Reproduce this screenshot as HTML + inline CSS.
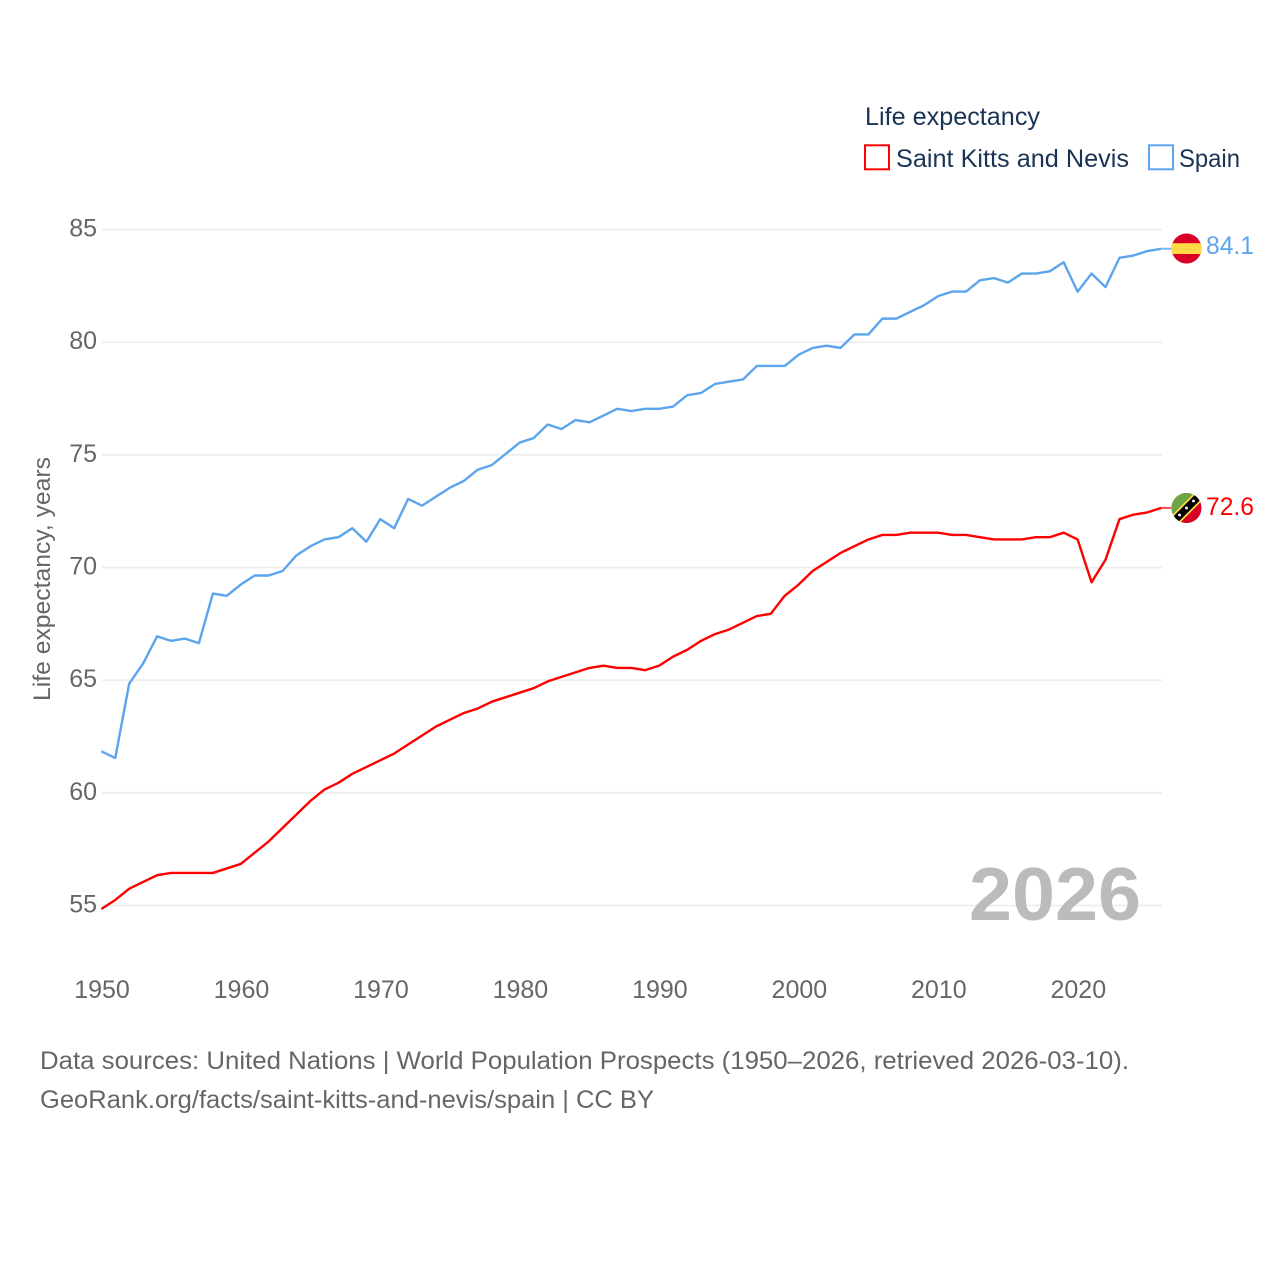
<!DOCTYPE html>
<html lang="en">
<head>
<meta charset="utf-8">
<title>Life expectancy: Saint Kitts and Nevis vs Spain</title>
<style>
html,body{margin:0;padding:0;background:#fff;width:1280px;height:1280px;overflow:hidden}
svg{display:block;font-family:"Liberation Sans",sans-serif}
</style>
</head>
<body>
<svg id="chart" xmlns="http://www.w3.org/2000/svg" width="1280" height="1280" viewBox="0 0 1280 1280">
  <defs>
    <clipPath id="flag-clip-es"><circle cx="1186.5" cy="248.5" r="15"/></clipPath>
    <clipPath id="flag-clip-kn"><circle cx="1186.5" cy="508" r="15"/></clipPath>
  </defs>
  <rect x="0" y="0" width="1280" height="1280" fill="#fff"/>
  <g id="grid"></g>
  <g id="yticks"></g>
  <g id="xticks"></g>
  <text transform="translate(50 701) rotate(-90)" font-size="24" fill="#666" textLength="244" lengthAdjust="spacingAndGlyphs">Life expectancy, years</text>

  <text x="969" y="920" font-size="75" font-weight="bold" fill="#bbb" textLength="172" lengthAdjust="spacingAndGlyphs">2026</text>

  <g id="series" transform="translate(-0.7 -1)"></g>

  <g>
    <text x="865" y="125" font-size="25" fill="#1a3354" textLength="175" lengthAdjust="spacingAndGlyphs">Life expectancy</text>
    <rect x="865" y="145.3" width="24" height="24" fill="none" stroke="#ff0000" stroke-width="2"/>
    <text x="896" y="167" font-size="25" fill="#1a3354" textLength="233" lengthAdjust="spacingAndGlyphs">Saint Kitts and Nevis</text>
    <rect x="1149" y="145.3" width="24" height="24" fill="none" stroke="#5ca5ec" stroke-width="2"/>
    <text x="1179" y="167" font-size="25" fill="#1a3354" textLength="61" lengthAdjust="spacingAndGlyphs">Spain</text>
  </g>

  <g clip-path="url(#flag-clip-es)">
    <rect x="1170" y="232" width="34" height="33" fill="#d80027"/>
    <rect x="1170" y="243.2" width="34" height="10.8" fill="#ffda44"/>
  </g>
  <g clip-path="url(#flag-clip-kn)">
    <rect x="1170" y="491" width="34" height="34" fill="#d80027"/>
    <polygon points="1170,491 1204,491 1170,525" fill="#6da544"/>
    <line x1="1170" y1="525" x2="1204" y2="491" stroke="#ffda44" stroke-width="11"/>
    <line x1="1170" y1="525" x2="1204" y2="491" stroke="#000" stroke-width="7.5"/>
    <circle cx="1179.5" cy="515" r="1.5" fill="#eee"/>
    <circle cx="1186.5" cy="508" r="1.5" fill="#eee"/>
    <circle cx="1193.5" cy="501" r="1.5" fill="#eee"/>
  </g>

  <text id="value-spain" x="1206" y="254" font-size="25" fill="#5ca5ec" textLength="48" lengthAdjust="spacingAndGlyphs"></text>
  <text id="value-kitts" x="1206" y="515" font-size="25" fill="#ff0000" textLength="48" lengthAdjust="spacingAndGlyphs"></text>

  <text x="40" y="1069" font-size="25" fill="#666" textLength="1089" lengthAdjust="spacingAndGlyphs">Data sources: United Nations | World Population Prospects (1950–2026, retrieved 2026-03-10).</text>
  <text x="40" y="1108" font-size="25" fill="#666" textLength="614" lengthAdjust="spacingAndGlyphs">GeoRank.org/facts/saint-kitts-and-nevis/spain | CC BY</text>
</svg>
<script>
const years = [1950,1951,1952,1953,1954,1955,1956,1957,1958,1959,1960,1961,1962,1963,1964,1965,1966,1967,1968,1969,1970,1971,1972,1973,1974,1975,1976,1977,1978,1979,1980,1981,1982,1983,1984,1985,1986,1987,1988,1989,1990,1991,1992,1993,1994,1995,1996,1997,1998,1999,2000,2001,2002,2003,2004,2005,2006,2007,2008,2009,2010,2011,2012,2013,2014,2015,2016,2017,2018,2019,2020,2021,2022,2023,2024,2025,2026];
const spainValues = [61.8,61.5,64.8,65.7,66.9,66.7,66.8,66.6,68.8,68.7,69.2,69.6,69.6,69.8,70.5,70.9,71.2,71.3,71.7,71.1,72.1,71.7,73.0,72.7,73.1,73.5,73.8,74.3,74.5,75.0,75.5,75.7,76.3,76.1,76.5,76.4,76.7,77.0,76.9,77.0,77.0,77.1,77.6,77.7,78.1,78.2,78.3,78.9,78.9,78.9,79.4,79.7,79.8,79.7,80.3,80.3,81.0,81.0,81.3,81.6,82.0,82.2,82.2,82.7,82.8,82.6,83.0,83.0,83.1,83.5,82.2,83.0,82.4,83.7,83.8,84.0,84.1];
const kittsValues = [54.8,55.2,55.7,56.0,56.3,56.4,56.4,56.4,56.4,56.6,56.8,57.3,57.8,58.4,59.0,59.6,60.1,60.4,60.8,61.1,61.4,61.7,62.1,62.5,62.9,63.2,63.5,63.7,64.0,64.2,64.4,64.6,64.9,65.1,65.3,65.5,65.6,65.5,65.5,65.4,65.6,66.0,66.3,66.7,67.0,67.2,67.5,67.8,67.9,68.7,69.2,69.8,70.2,70.6,70.9,71.2,71.4,71.4,71.5,71.5,71.5,71.4,71.4,71.3,71.2,71.2,71.2,71.3,71.3,71.5,71.2,69.3,70.3,72.1,72.3,72.4,72.6];
const yTickValues = [55,60,65,70,75,80,85];
const xTickValues = [1950,1960,1970,1980,1990,2000,2010,2020];

const NS = 'http://www.w3.org/2000/svg';
const xScale = function (year) { return 102 + (year - 1950) * (1162 - 102) / (2026 - 1950); };
const yScale = function (value) { return 905.5 - (value - 55) * (905.5 - 229.5) / (85 - 55); };

const grid = document.getElementById('grid');
const yticks = document.getElementById('yticks');
const xticks = document.getElementById('xticks');
const series = document.getElementById('series');

yTickValues.forEach(function (v) {
  const line = document.createElementNS(NS, 'line');
  
  
  line.setAttribute('x1', xScale(1950));
  line.setAttribute('x2', xScale(2026));
  line.setAttribute('y1', yScale(v));
  line.setAttribute('y2', yScale(v));
  line.setAttribute('stroke', '#eeeeee');
  line.setAttribute('stroke-width', '1.8');
  grid.appendChild(line);

  const label = document.createElementNS(NS, 'text');
  
  
  label.setAttribute('x', 97);
  label.setAttribute('y', yScale(v) + 7);
  label.setAttribute('text-anchor', 'end');
  label.setAttribute('font-size', '25');
  label.setAttribute('fill', '#666');
  label.textContent = String(v);
  yticks.appendChild(label);
});

xTickValues.forEach(function (y) {
  const label = document.createElementNS(NS, 'text');
  
  
  label.setAttribute('x', xScale(y));
  label.setAttribute('y', 998);
  label.setAttribute('text-anchor', 'middle');
  label.setAttribute('font-size', '25');
  label.setAttribute('fill', '#666');
  label.textContent = String(y);
  xticks.appendChild(label);
});

function linePoints(values) {
  return values.map(function (v, i) {
    return xScale(years[i]).toFixed(2) + ',' + yScale(v).toFixed(2);
  }).join(' ');
}

const spainLine = document.createElementNS(NS, 'polyline');


spainLine.setAttribute('points', linePoints(spainValues));
spainLine.setAttribute('fill', 'none');
spainLine.setAttribute('stroke', '#5ca5ec');
spainLine.setAttribute('stroke-width', '2.4');
spainLine.setAttribute('stroke-linejoin', 'round');
series.appendChild(spainLine);

const kittsLine = document.createElementNS(NS, 'polyline');


kittsLine.setAttribute('points', linePoints(kittsValues));
kittsLine.setAttribute('fill', 'none');
kittsLine.setAttribute('stroke', '#ff0000');
kittsLine.setAttribute('stroke-width', '2.4');
kittsLine.setAttribute('stroke-linejoin', 'round');
series.appendChild(kittsLine);

const last = years.length - 1;

const spainConnector = document.createElementNS(NS, 'line');


spainConnector.setAttribute('x1', xScale(years[last]));
spainConnector.setAttribute('y1', yScale(spainValues[last]));
spainConnector.setAttribute('x2', xScale(years[last]) + 10);
spainConnector.setAttribute('y2', yScale(spainValues[last]));
spainConnector.setAttribute('stroke', '#5ca5ec');
spainConnector.setAttribute('stroke-width', '2');
spainConnector.setAttribute('stroke-opacity', '0.8');
series.appendChild(spainConnector);

const kittsConnector = document.createElementNS(NS, 'line');


kittsConnector.setAttribute('x1', xScale(years[last]));
kittsConnector.setAttribute('y1', yScale(kittsValues[last]));
kittsConnector.setAttribute('x2', xScale(years[last]) + 10);
kittsConnector.setAttribute('y2', yScale(kittsValues[last]));
kittsConnector.setAttribute('stroke', '#ff0000');
kittsConnector.setAttribute('stroke-width', '2');
kittsConnector.setAttribute('stroke-opacity', '0.7');
series.appendChild(kittsConnector);

document.getElementById('value-spain').textContent = spainValues[last].toFixed(1);
document.getElementById('value-kitts').textContent = kittsValues[last].toFixed(1);
</script>
</body>
</html>
